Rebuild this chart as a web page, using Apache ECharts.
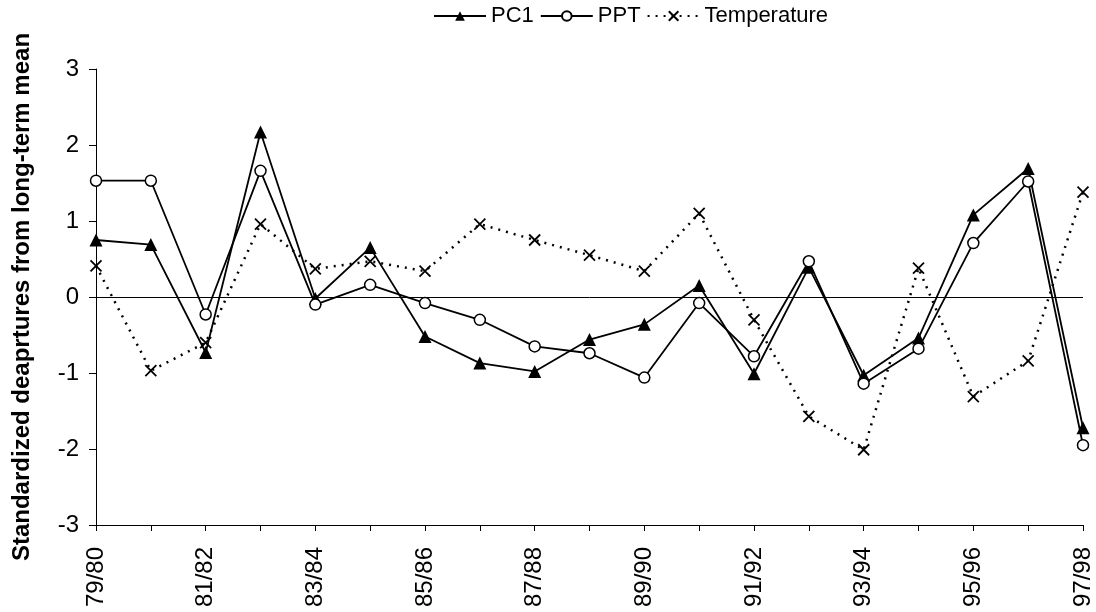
<!DOCTYPE html>
<html>
<head>
<meta charset="utf-8">
<script src="https://cdn.jsdelivr.net/npm/echarts@6/dist/echarts.min.js"></script>
<style>html,body{margin:0;padding:0;background:#fff}#c{width:1096px;height:612px}</style>
</head>
<body>
<div id="c"></div>
<script>
var categories = ['79/80','80/81','81/82','82/83','83/84','84/85','85/86','86/87','87/88','88/89','89/90','90/91','91/92','92/93','93/94','94/95','95/96','96/97','97/98'];
var pc1 = [0.75, 0.69, -0.73, 2.17, -0.02, 0.65, -0.52, -0.87, -0.98, -0.56, -0.36, 0.15, -1.01, 0.39, -1.03, -0.54, 1.08, 1.69, -1.72];
var ppt = [1.53, 1.53, -0.23, 1.66, -0.10, 0.16, -0.08, -0.30, -0.65, -0.74, -1.06, -0.08, -0.78, 0.47, -1.14, -0.68, 0.71, 1.52, -1.95];
var temperature = [0.41, -0.97, -0.60, 0.96, 0.37, 0.47, 0.34, 0.96, 0.75, 0.55, 0.34, 1.10, -0.30, -1.57, -2.01, 0.38, -1.31, -0.84, 1.38];
var yTicks = [-3, -2, -1, 0, 1, 2, 3];

var FONT = 'Liberation Sans, Arial, sans-serif';
var chart = echarts.init(document.getElementById('c'), null, {renderer: 'canvas'});
chart.setOption({
  animation: false,
  backgroundColor: '#fff',
  textStyle: {fontFamily: FONT, color: '#000'},
  legend: {
    left: 428, top: 0,
    itemWidth: 52, itemHeight: 12, itemGap: 6,
    textStyle: {fontSize: 22, color: '#000', fontFamily: FONT},
    data: ['PC1', 'PPT', 'Temperature']
  },
  grid: {left: 96, right: 13, top: 69, bottom: 87, containLabel: false},
  xAxis: {
    type: 'category',
    data: categories,
    boundaryGap: false,
    axisLine: {onZero: false, lineStyle: {color: '#000', width: 1}},
    axisTick: {show: true, interval: 0, inside: false, length: 6, lineStyle: {color: '#000'}},
    axisLabel: {interval: 1, rotate: 90, fontSize: 24, color: '#000', margin: 22, fontFamily: FONT},
    splitLine: {show: false}
  },
  yAxis: {
    type: 'value',
    min: yTicks[0], max: yTicks[yTicks.length - 1], interval: 1,
    name: 'Standardized deaprtures from long-term mean',
    nameLocation: 'middle',
    nameGap: 62,
    nameTextStyle: {fontSize: 24, fontWeight: 'bold', color: '#000', fontFamily: FONT},
    axisLine: {show: true, lineStyle: {color: '#000', width: 1}},
    axisTick: {show: true, inside: false, length: 7, lineStyle: {color: '#000'}},
    axisLabel: {fontSize: 24, color: '#000', margin: 17, fontFamily: FONT},
    splitLine: {show: false}
  },
  series: [
    {
      name: 'PC1', type: 'line', data: pc1,
      symbol: 'triangle', symbolSize: 13,
      itemStyle: {color: '#000'},
      lineStyle: {color: '#000', width: 1.8},
      markLine: {
        silent: true, symbol: 'none', label: {show: false},
        lineStyle: {color: '#000', width: 1, type: 'solid'},
        data: [{yAxis: 0}]
      },
      z: 3
    },
    {
      name: 'PPT', type: 'line', data: ppt,
      symbol: 'circle', symbolSize: 11,
      itemStyle: {color: '#fff', borderColor: '#000', borderWidth: 1.5},
      lineStyle: {color: '#000', width: 1.8},
      z: 4
    },
    {
      name: 'Temperature', type: 'line', data: temperature,
      symbol: 'path://M0,0L10,10M10,0L0,10', symbolSize: 11,
      itemStyle: {color: 'none', borderColor: '#000', borderWidth: 1.8},
      lineStyle: {color: '#000', width: 2.5, type: [2, 6]},
      z: 2
    }
  ]
});
</script>
</body>
</html>
